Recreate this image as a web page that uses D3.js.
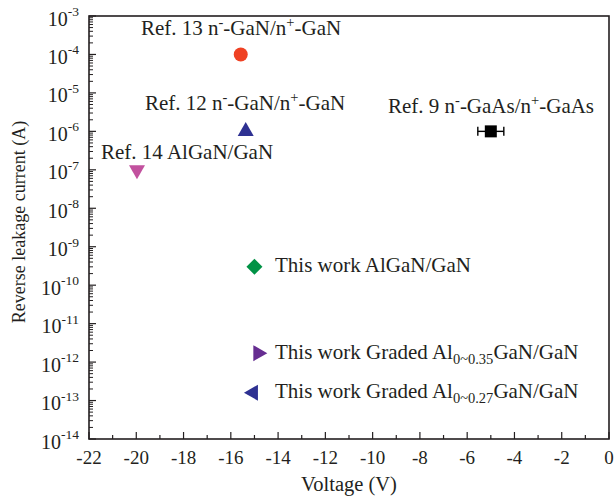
<!DOCTYPE html>
<html>
<head>
<meta charset="utf-8">
<script src="https://cdn.jsdelivr.net/npm/d3@7"></script>
<style>
  html, body { margin: 0; padding: 0; background: #fff; }
  text { font-family: "Liberation Serif", "DejaVu Serif", serif; fill: #231f20; }
</style>
</head>
<body>
<svg id="chart" width="614" height="498"></svg>
<script>
// Reported reverse leakage currents (A) versus voltage (V)
const labels   = ["Ref. 13", "Ref. 12", "Ref. 14", "Ref. 9", "This work AlGaN/GaN", "Graded 0~0.35", "Graded 0~0.27"];
const voltages = [-15.58, -15.37, -19.97, -5.0, -15.0, -14.85, -15.05];
const currents = [1e-4, 1e-6, 1e-7, 1e-6, 3e-10, 1.7e-12, 1.6e-13];
const voltErr  = [0, 0, 0, 0.55, 0, 0, 0];
const shapes   = ["circle", "up", "down", "square", "diamond", "right", "left"];
const colors   = ["#ef4123", "#2e3192", "#c2519e", "#000000", "#009245", "#662d91", "#2e3192"];

const xTicks = [-22, -20, -18, -16, -14, -12, -10, -8, -6, -4, -2, 0];
const yExponents = [-3, -4, -5, -6, -7, -8, -9, -10, -11, -12, -13, -14];

const svg = d3.select("#chart");
const m = { left: 89, top: 16, right: 609, bottom: 439 };
const ink = "#231f20";

const x = d3.scaleLinear().domain([-22, 0]).range([m.left, m.right]);
const y = d3.scaleLog().domain([1e-14, 1e-3]).range([m.bottom, m.top]);

// Frame
svg.append("rect")
  .attr("x", m.left).attr("y", m.top)
  .attr("width", m.right - m.left).attr("height", m.bottom - m.top)
  .attr("fill", "none").attr("stroke", ink).attr("stroke-width", 1.6);

// X axis: inward ticks, major every 2 V, minor every 1 V
const xAxisG = svg.append("g");
xAxisG.selectAll("line").data(d3.range(-22, 0.5, 1)).join("line")
  .attr("x1", d => x(d)).attr("x2", d => x(d))
  .attr("y1", m.bottom).attr("y2", d => m.bottom - (d % 2 === 0 ? 7 : 4))
  .attr("stroke", ink).attr("stroke-width", 1.2);
xAxisG.selectAll("text").data(xTicks).join("text")
  .attr("x", d => x(d)).attr("y", m.bottom + 25)
  .attr("text-anchor", "middle")
  .attr("font-size", 19)
  .text(d => d);

// Y axis: inward ticks, major per decade, minor at 2..9
const yAxisG = svg.append("g");
yAxisG.selectAll("line.major").data(yExponents).join("line")
  .attr("class", "major")
  .attr("x1", m.left).attr("x2", m.left + 7)
  .attr("y1", d => y(Math.pow(10, d))).attr("y2", d => y(Math.pow(10, d)))
  .attr("stroke", ink).attr("stroke-width", 1.2);
const minorVals = [];
for (let e = -14; e < -3; e++) for (let k = 2; k <= 9; k++) minorVals.push(k * Math.pow(10, e));
yAxisG.selectAll("line.minor").data(minorVals).join("line")
  .attr("class", "minor")
  .attr("x1", m.left).attr("x2", m.left + 4)
  .attr("y1", d => y(d)).attr("y2", d => y(d))
  .attr("stroke", ink).attr("stroke-width", 1);
const yt = yAxisG.selectAll("text").data(yExponents).join("text")
  .attr("x", m.left - 10)
  .attr("y", d => y(Math.pow(10, d)) + 9.5)
  .attr("text-anchor", "end")
  .attr("font-size", 20);
yt.append("tspan").text("10");
yt.append("tspan").attr("dy", -9.5).attr("font-size", 13.5).text(d => String(d));

// Axis titles
svg.append("text")
  .attr("x", 349).attr("y", 491)
  .attr("text-anchor", "middle").attr("font-size", 20.5)
  .text("Voltage (V)");
svg.append("text")
  .attr("transform", "translate(25, 222) rotate(-90)")
  .attr("text-anchor", "middle").attr("font-size", 18)
  .text("Reverse leakage current (A)");

// Error bars
const data = voltages.map((v, i) => ({ v, c: currents[i], err: voltErr[i], shape: shapes[i], color: colors[i] }));
data.filter(d => d.err > 0).forEach(d => {
  const g = svg.append("g").attr("stroke", d.color).attr("stroke-width", 1.4);
  const cy = y(d.c), x0 = x(d.v - d.err), x1 = x(d.v + d.err);
  g.append("line").attr("x1", x0).attr("x2", x1).attr("y1", cy).attr("y2", cy);
  g.append("line").attr("x1", x0).attr("x2", x0).attr("y1", cy - 4.5).attr("y2", cy + 4.5);
  g.append("line").attr("x1", x1).attr("x2", x1).attr("y1", cy - 4.5).attr("y2", cy + 4.5);
});

// Marker outlines, centred on their centroid
function markerPath(shape) {
  const w = 8, h = 14;
  switch (shape) {
    case "up":    return `M0,${-2 * h / 3} L${w},${h / 3} L${-w},${h / 3} Z`;
    case "down":  return `M0,${2 * h / 3} L${w},${-h / 3} L${-w},${-h / 3} Z`;
    case "right": return `M${2 * h / 3},0 L${-h / 3},${w} L${-h / 3},${-w} Z`;
    case "left":  return `M${-2 * h / 3},0 L${h / 3},${w} L${h / 3},${-w} Z`;
    case "diamond": return "M0,-8 L8,0 L0,8 L-8,0 Z";
    case "square": return "M-6,-6 L6,-6 L6,6 L-6,6 Z";
  }
  return "";
}
data.forEach(d => {
  const px = x(d.v), py = y(d.c);
  if (d.shape === "circle") {
    svg.append("circle").attr("cx", px).attr("cy", py).attr("r", 7).attr("fill", d.color);
  } else {
    svg.append("path").attr("d", markerPath(d.shape))
      .attr("transform", `translate(${px},${py})`).attr("fill", d.color);
  }
});

// Annotations with super/subscripts
const fs = 21;
function richLabel(xp, yp, anchor, parts) {
  const t = svg.append("text").attr("x", xp).attr("y", yp).attr("text-anchor", anchor).attr("font-size", fs);
  let shift = 0;
  parts.forEach(p => {
    let dy = 0, size = null, txt = p;
    if (typeof p === "object") {
      if (p.sup) { dy = -8; size = 14.5; txt = p.sup; }
      if (p.sub) { dy = 5; size = 14.5; txt = p.sub; }
    }
    const s = t.append("tspan").attr("dy", dy - shift).text(txt);
    if (size) s.attr("font-size", size);
    shift = dy;
  });
  return t;
}

richLabel(241, 35, "middle", ["Ref. 13 n", { sup: "-" }, "-GaN/n", { sup: "+" }, "-GaN"]);
richLabel(245, 110, "middle", ["Ref. 12 n", { sup: "-" }, "-GaN/n", { sup: "+" }, "-GaN"]);
richLabel(101, 159, "start", ["Ref. 14 AlGaN/GaN"]);
richLabel(491, 113, "middle", ["Ref. 9 n", { sup: "-" }, "-GaAs/n", { sup: "+" }, "-GaAs"]);

richLabel(275, 272, "start", ["This work AlGaN/GaN"]);
richLabel(275, 359, "start", ["This work Graded Al", { sub: "0~0.35" }, "GaN/GaN"]);
richLabel(275, 398, "start", ["This work Graded Al", { sub: "0~0.27" }, "GaN/GaN"]);
</script>
</body>
</html>
